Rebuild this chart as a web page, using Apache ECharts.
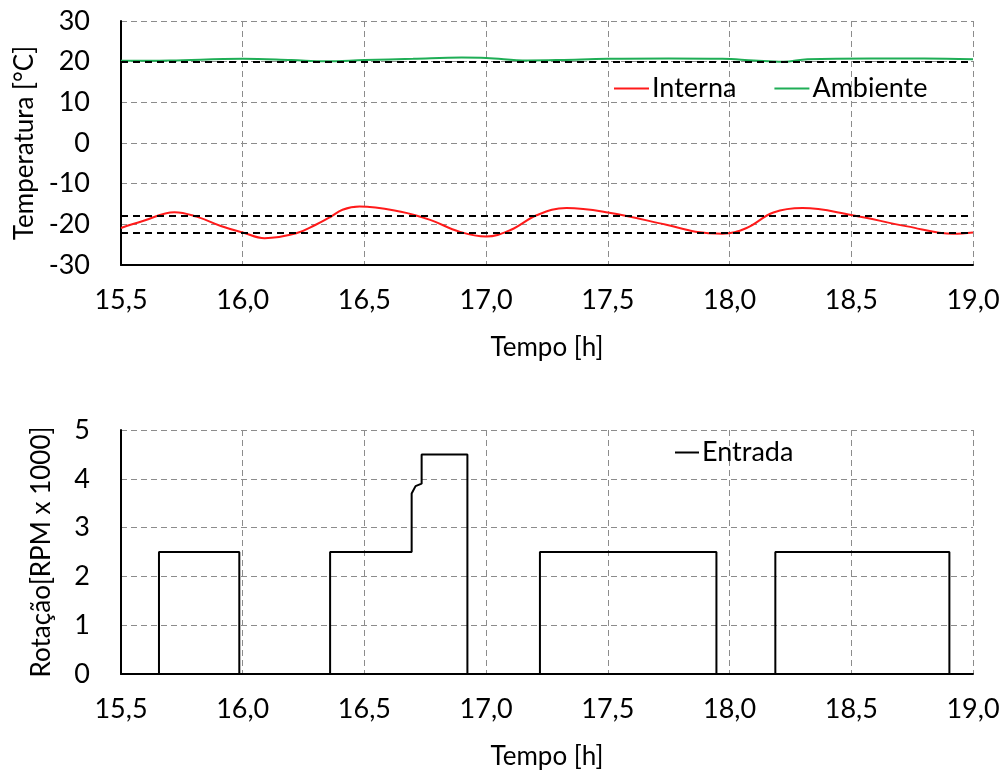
<!DOCTYPE html>
<html>
<head>
<meta charset="utf-8">
<script src="https://cdn.jsdelivr.net/npm/echarts@6/dist/echarts.min.js"></script>
<style>
  html, body { margin: 0; padding: 0; background: #fff; }
  #chart { width: 1004px; height: 775px; }
</style>
</head>
<body>
<div id="chart"></div>
<script>
// Temperatures [°C] over time [h]
const internaData = [
  [15.5, -20.9], [15.59, -19.2], [15.72, -17.0], [15.81, -18.1], [15.91, -20.4],
  [16.0, -22.0], [16.09, -23.4], [16.22, -22.2], [16.3, -20.1], [16.36, -18.2],
  [16.41, -16.4], [16.48, -15.6], [16.65, -16.9], [16.77, -18.9], [16.89, -21.8],
  [17.0, -23.0], [17.1, -21.4], [17.21, -17.7], [17.33, -16.0], [17.5, -17.1],
  [17.74, -20.1], [17.86, -21.8], [17.97, -22.3], [18.07, -20.9], [18.18, -17.1],
  [18.3, -16.0], [18.5, -17.7], [18.73, -20.5], [18.92, -22.3], [19.0, -22.0]
];
const ambienteData = [
  [15.5, 20.2], [15.7, 20.3], [16.0, 20.7], [16.2, 20.4], [16.34, 20.1],
  [16.5, 20.4], [16.7, 20.7], [16.9, 21.0], [17.0, 20.9], [17.17, 20.3],
  [17.3, 20.4], [17.5, 20.7], [17.75, 20.8], [17.97, 20.7], [18.1, 20.3],
  [18.22, 20.0], [18.32, 20.6], [18.58, 20.8], [18.8, 20.8], [19.0, 20.6]
];
// Reference temperature levels (dashed black lines)
const refLevels = [20, -18, -22];

// Compressor speed [RPM x 1000]
const entradaData = [
  [15.5, 0], [15.656, 0], [15.656, 2.5], [15.986, 2.5], [15.986, 0],
  [16.359, 0], [16.359, 2.5], [16.694, 2.5], [16.694, 3.7], [16.71, 3.85],
  [16.735, 3.9], [16.735, 4.5], [16.923, 4.5], [16.923, 0],
  [17.221, 0], [17.221, 2.5], [17.946, 2.5], [17.946, 0],
  [18.188, 0], [18.188, 2.5], [18.903, 2.5], [18.903, 0], [19.0, 0]
];

const timeRange = { min: 15.5, max: 19.0, interval: 0.5 };
const tempRange = { min: -30, max: 30, interval: 10 };
const rpmRange = { min: 0, max: 5, interval: 1 };

const FONT = 'Lato';
const FS = 26;
const comma = v => v.toFixed(1).replace('.', ',');

function xAxisCfg(gridIndex) {
  return {
    type: 'value', gridIndex,
    min: timeRange.min, max: timeRange.max, interval: timeRange.interval,
    name: 'Tempo [h]', nameLocation: 'middle', nameGap: 70,
    nameTextStyle: { fontFamily: FONT, fontSize: FS, color: '#000' },
    axisLine: { show: true, onZero: false, lineStyle: { color: '#000', width: 2 } },
    axisTick: { show: false },
    axisLabel: { formatter: comma, fontFamily: FONT, fontSize: FS + 1, color: '#000', margin: 22 },
    splitLine: { show: true, lineStyle: { color: '#8c8c8c', type: [6, 4], width: 1 } }
  };
}
function yAxisCfg(gridIndex, range, name, gap) {
  return {
    type: 'value', gridIndex,
    min: range.min, max: range.max, interval: range.interval,
    name, nameLocation: 'middle', nameGap: gap, nameRotate: 90,
    nameTextStyle: { fontFamily: FONT, fontSize: FS, color: '#000' },
    axisLine: { show: true, onZero: false, lineStyle: { color: '#000', width: 2 } },
    axisTick: { show: false },
    axisLabel: { fontFamily: FONT, fontSize: FS + 1, color: '#000', margin: 31 },
    splitLine: { show: true, lineStyle: { color: '#8c8c8c', type: [6, 4], width: 1 } }
  };
}

const chart = echarts.init(document.getElementById('chart'));
chart.setOption({
  backgroundColor: '#fff',
  animation: false,
  grid: [
    { left: 121, top: 21, width: 852, height: 244, containLabel: false, outerBoundsMode: 'none' },
    { left: 121, top: 430, width: 852, height: 244, containLabel: false, outerBoundsMode: 'none' }
  ],
  legend: [
    {
      data: ['Interna', 'Ambiente'],
      left: 609, top: 70,
      icon: 'rect', itemWidth: 35, itemHeight: 2, itemGap: 38,
      textStyle: { fontFamily: FONT, fontSize: FS + 1, color: '#000', padding: [0, 0, 0, -2] }
    },
    {
      data: ['Entrada'],
      left: 670, top: 434,
      icon: 'rect', itemWidth: 24, itemHeight: 2,
      textStyle: { fontFamily: FONT, fontSize: FS + 1, color: '#000', padding: [0, 0, 0, -2] }
    }
  ],
  xAxis: [xAxisCfg(0), xAxisCfg(1)],
  yAxis: [
    yAxisCfg(0, tempRange, 'Temperatura [°C]', 83),
    yAxisCfg(1, rpmRange, 'Rotação[RPM x 1000]', 66)
  ],
  series: [
    {
      name: 'Interna', type: 'line', xAxisIndex: 0, yAxisIndex: 0,
      data: internaData, smooth: 0.4, showSymbol: false,
      lineStyle: { color: '#ff1a1a', width: 2 }, itemStyle: { color: '#ff1a1a' },
      markLine: {
        silent: true, symbol: 'none', label: { show: false },
        lineStyle: { color: '#000', type: [7, 5], width: 2 },
        data: refLevels.map(v => ({ yAxis: v }))
      },
      z: 3
    },
    {
      name: 'Ambiente', type: 'line', xAxisIndex: 0, yAxisIndex: 0,
      data: ambienteData, smooth: 0.4, showSymbol: false,
      lineStyle: { color: '#1fae56', width: 2 }, itemStyle: { color: '#1fae56' },
      z: 2
    },
    {
      name: 'Entrada', type: 'line', xAxisIndex: 1, yAxisIndex: 1,
      data: entradaData, showSymbol: false,
      lineStyle: { color: '#000', width: 2 }, itemStyle: { color: '#000' }
    }
  ]
});
</script>
</body>
</html>
